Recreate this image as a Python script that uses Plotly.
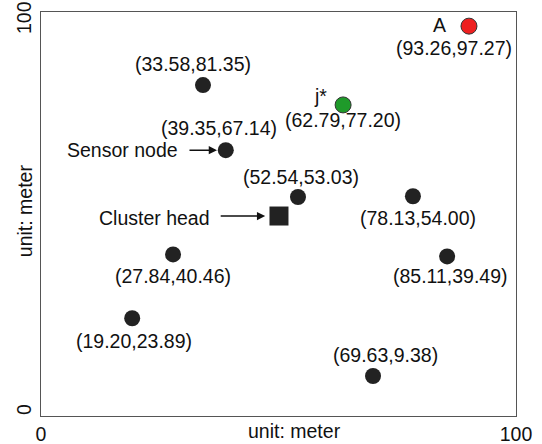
import plotly.graph_objects as go

# ---- data (positions, labels as printed) ----
node_x = [34.1, 38.9, 54.1, 78.3, 27.8, 85.5, 19.2, 69.9]
node_y = [81.9, 65.8, 54.2, 54.4, 40.0, 39.5, 24.2, 9.9]
node_labels = ["(33.58,81.35)", "(39.35,67.14)", "(52.54,53.03)", "(78.13,54.00)",
               "(27.84,40.46)", "(85.11,39.49)", "(19.20,23.89)", "(69.63,9.38)"]

a_x, a_y = [90.1], [96.5]
a_label = "(93.26,97.27)"
j_x, j_y = [63.6], [77.0]
j_label = "(62.79,77.20)"
ch_x, ch_y = [50.1], [49.5]

x_ticks = [0, 100]
x_tick_labels = ["0", "100"]
y_tick_vals = [0, 100]
y_tick_labels = ["0", "100"]
axis_title = "unit: meter"

FONT = "Liberation Sans, Arial, sans-serif"
FS = 19.5
DARK = "#222222"

# label offsets in pixels (dx right, dy down)
label_off = [(-9.5, -21), (-7, -22), (3.5, -20), (5, 21.5),
             (0, 22), (3, 20), (2, 23), (12, -21)]

fig = go.Figure()
fig.add_trace(go.Scatter(x=node_x, y=node_y, mode="markers",
                         marker=dict(size=16, color=DARK, line=dict(width=0)),
                         showlegend=False, hoverinfo="skip"))
fig.add_trace(go.Scatter(x=ch_x, y=ch_y, mode="markers",
                         marker=dict(size=19, color=DARK, symbol="square", line=dict(width=0)),
                         showlegend=False, hoverinfo="skip"))
fig.add_trace(go.Scatter(x=a_x, y=a_y, mode="markers",
                         marker=dict(size=16, color="#ee2020", line=dict(width=1, color="#333333")),
                         showlegend=False, hoverinfo="skip"))
fig.add_trace(go.Scatter(x=j_x, y=j_y, mode="markers",
                         marker=dict(size=16, color="#1f9a2a", line=dict(width=1, color="#333333")),
                         showlegend=False, hoverinfo="skip"))

ann = []
def txt(x, y, s, dx=0, dy=0, xanchor="center"):
    ann.append(dict(x=x, y=y, xref="x", yref="y", text=s, showarrow=False,
                    xshift=dx, yshift=-dy, xanchor=xanchor, yanchor="middle",
                    font=dict(family=FONT, size=FS, color="#111111")))

for x, y, s, (dx, dy) in zip(node_x, node_y, node_labels, label_off):
    txt(x, y, s, dx, dy)
txt(a_x[0], a_y[0], a_label, -15, 22)
txt(a_x[0], a_y[0], "A", -29, -1)
txt(j_x[0], j_y[0], j_label, 0, 15)
txt(j_x[0], j_y[0], "j*", -23, -9)

# text with arrows
txt(29.3, 65.8, "Sensor node", 0, 0, xanchor="right")
txt(36.0, 49.0, "Cluster head", 0, 0, xanchor="right")
for tipx, tipy, length in [(37.05, 65.8, 29), (47.2, 49.5, 46)]:
    ann.append(dict(x=tipx, y=tipy, xref="x", yref="y", text="", showarrow=True,
                    ax=-length, ay=0, arrowhead=2, arrowsize=1.1, arrowwidth=1.5,
                    arrowcolor="#111111", standoff=0))

# y tick labels (rotated)
for v, s in zip(y_tick_vals, y_tick_labels):
    ann.append(dict(x=0, y=v, xref="paper", yref="y", text=s, showarrow=False,
                    textangle=-90, xshift=-17, yshift=(-6 if v == 100 else 6),
                    xanchor="center", yanchor="middle",
                    font=dict(family=FONT, size=FS, color="#111111")))
# axis titles
ann.append(dict(x=53.3, y=0, xref="x", yref="paper", text=axis_title, showarrow=False,
                yanchor="top", yshift=-2, xanchor="center",
                font=dict(family=FONT, size=FS, color="#111111")))
ann.append(dict(x=0, y=50.7, xref="paper", yref="y", text=axis_title, showarrow=False,
                textangle=-90, xshift=-16, xanchor="center", yanchor="middle",
                font=dict(family=FONT, size=FS, color="#111111")))

fig.update_layout(
    width=542, height=444,
    margin=dict(l=41, r=26, t=12, b=28, autoexpand=False),
    paper_bgcolor="white", plot_bgcolor="white",
    annotations=ann,
    xaxis=dict(range=[0, 100], tickvals=x_ticks, ticktext=x_tick_labels,
               showgrid=False, zeroline=False, showline=True, mirror=True,
               linecolor="#555555", linewidth=1.3, ticks="", automargin=False,
               tickfont=dict(family=FONT, size=FS, color="#111111")),
    yaxis=dict(range=[0, 100], tickvals=y_tick_vals, showticklabels=False,
               showgrid=False, zeroline=False, showline=True, mirror=True,
               linecolor="#555555", linewidth=1.3, ticks="", automargin=False),
)

fig.write_html("out.html", config={"displayModeBar": False},
               post_script="document.body.style.margin='0';document.body.style.padding='0';")
